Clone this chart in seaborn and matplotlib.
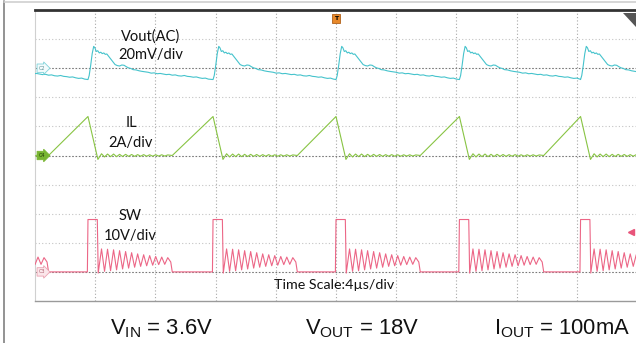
import numpy as np
import pandas as pd
import matplotlib
matplotlib.use("Agg")
import matplotlib.pyplot as plt
import seaborn as sns
from matplotlib.lines import Line2D
from matplotlib.patches import Polygon

# ---------------- data ----------------
# switching-cycle start times (SW rising edge), microseconds
cycle_starts_us = [-4.7, 3.52, 11.83, 20.0, 28.2, 36.25]

# Vout(AC) shape within one cycle: time offset (us) and ripple (mV)
vout_t_us = [0.00, 0.08, 0.18, 0.28, 0.38, 0.46, 0.55, 0.65, 0.75, 0.85, 0.95, 1.05,
             1.15, 1.25, 1.35, 1.50, 1.65, 1.80, 1.95, 2.10, 2.25, 2.40, 2.55, 2.70,
             2.85, 3.00, 3.20, 3.40, 3.60, 3.80, 4.00, 4.20, 4.40, 4.60, 4.80, 5.00,
             5.20, 5.40, 5.60, 5.80, 6.00, 6.20, 6.40, 6.60, 6.80, 7.00, 7.20, 7.40,
             7.60, 7.80, 8.00]
vout_mv = [-7.8, -5.0, 2.0, 10.0, 15.0, 14.0, 11.5, 12.0, 10.5, 11.0, 10.0, 10.5,
           9.5, 9.8, 8.5, 6.5, 4.5, 2.5, 1.8, 1.5, 2.2, 2.0, 1.0, 0.2,
           -0.2, -1.0, -1.2, -1.8, -2.2, -2.5, -2.8, -3.4, -3.2, -3.8, -3.6, -4.0,
           -4.4, -4.2, -4.8, -4.6, -5.2, -5.4, -5.0, -5.6, -5.8, -6.2, -6.0, -6.6,
           -7.0, -6.8, -7.5]

# inductor current shape after the peak (A)
il_t_us = [0.0, 0.66, 0.8, 0.9, 1.1, 1.3, 1.5, 1.7, 1.9, 2.1, 2.3, 2.5, 2.7, 2.9,
           3.1, 3.3, 3.5, 3.7, 3.9, 4.1, 4.3, 4.5, 4.7, 4.9, 5.1, 5.3, 5.6]
il_a = [2.68, -0.27, -0.05, 0.12, -0.1, 0.1, -0.08, 0.1, -0.08, 0.08, -0.07, 0.08,
        -0.06, 0.07, -0.06, 0.06, -0.05, 0.06, -0.05, 0.05, -0.05, 0.05, -0.04,
        0.05, -0.04, 0.04, 0.0]

# switch-node voltage shape (V)
sw_t_us = [-0.04, 0.0, 0.62, 0.68, 0.9, 1.1, 1.3, 1.5, 1.7, 1.9, 2.1, 2.3, 2.5,
           2.7, 2.9, 3.1, 3.3, 3.5, 3.7, 3.9, 4.1, 4.3, 4.5, 4.7, 4.9, 5.1, 5.3,
           5.5, 5.6]
sw_v = [0.0, 18.0, 18.0, -0.4, 7.9, 0.2, 7.8, 0.4, 7.6, 0.7, 7.3, 1.0, 7.0, 1.3,
        6.6, 1.6, 6.2, 1.9, 5.9, 2.1, 5.6, 2.3, 5.3, 2.5, 5.1, 2.6, 4.9, 3.4, 0.0]

channels = ["Vout(AC)", "IL", "SW"]
channel_scale = [20.0, 2.0, 10.0]       # units per division
channel_ref_div = [8.0, 5.0, 1.0]       # ground-reference position (div)
channel_colors = ["#45c3cc", "#88c443", "#ec6686"]
time_per_div_us = 4.0
n_xdiv, n_ydiv = 10, 10

texts_label = ["Vout(AC)\n20mV/div", "IL\n2A/div", "SW\n10V/div"]
bottom_labels = [r"V$_{\mathregular{IN}}$ = 3.6V", r"V$_{\mathregular{OUT}}$ = 18V",
                 r"I$_{\mathregular{OUT}}$ = 100mA"]
time_scale_label = "Time Scale:4µs/div"
sw_trigger_level_v = 13.7

# ---------------- build table ----------------
shapes = [(vout_t_us, vout_mv), (il_t_us, il_a), (sw_t_us, sw_v)]
rows = []
for ch, (tt, vv), sc, ref in zip(channels, shapes, channel_scale, channel_ref_div):
    for t0 in cycle_starts_us:
        for dt, v in zip(tt, vv):
            rows.append((ch, t0 + dt, ref + v / sc))
df = pd.DataFrame(rows, columns=["channel", "t_us", "div"])

# ---------------- figure ----------------
sns.set_style("white")
plt.rcParams["mathtext.default"] = "regular"
W, H = 636, 343
fig = plt.figure(figsize=(W / 100, H / 100), dpi=100)
ax = fig.add_axes([35 / W, 42 / H, 602 / W, 291 / H])

xmax = n_xdiv * time_per_div_us
ax.set_xlim(0, xmax)
ax.set_ylim(0, n_ydiv)

# grid
for i in range(1, n_xdiv):
    ax.axvline(i * time_per_div_us, color="#a8a8a8", lw=0.8, ls=(0, (1, 2)), zorder=1)
for j in range(1, n_ydiv):
    dark = j in channel_ref_div
    ax.axhline(j, color="#7a7a7a" if dark else "#c4c4c4", lw=0.8,
               ls=(0, (1.5, 1.5)) if dark else (0, (1, 2)), zorder=1)

sns.lineplot(data=df, x="t_us", y="div", hue="channel", hue_order=channels,
             palette=channel_colors, estimator=None, sort=False, lw=0.8,
             legend=False, ax=ax, zorder=3)

ax.set_xlabel("")
ax.set_ylabel("")
ax.set_xticks([])
ax.set_yticks([])
for s in ["left", "bottom", "top", "right"]:
    ax.spines[s].set_visible(True)
ax.spines["top"].set_color("#333333")
ax.spines["top"].set_linewidth(2.0)
ax.spines["left"].set_color("#d0d0d0")
ax.spines["left"].set_linewidth(0.8)
ax.spines["bottom"].set_color("#9a9a9a")
ax.spines["bottom"].set_linewidth(1.0)
ax.spines["right"].set_visible(False)

# channel tags on the left edge
tag_styles = [("C2", "#f2fbfc", "#7fd3da", "#5a8f94"),
              ("C4", "#78b531", "#78b531", "#1e3a06"),
              ("C3", "#fbe6ea", "#eba3b2", "#b06070")]
for (tag, fc, ec, tc), ref in zip(tag_styles, channel_ref_div):
    ax.text(0.25, ref, tag, fontsize=3.5, color=tc, ha="left", va="center",
            family="DejaVu Sans", zorder=5,
            bbox=dict(boxstyle="rarrow,pad=0.35", fc=fc, ec=ec, lw=0.6))

# trigger marker at screen centre
ax.text(xmax / 2, 0.98, "T", transform=ax.get_xaxis_transform(), fontsize=4.5,
        color="black", ha="center", va="top", family="DejaVu Sans", weight="bold",
        zorder=6, bbox=dict(boxstyle="square,pad=0.3", fc="#e8892a", ec="#b0601a", lw=0.6))
# trigger level on SW channel (right edge)
ax.plot([xmax * 0.99], [channel_ref_div[2] + sw_trigger_level_v / channel_scale[2]],
        marker="<", ms=4, color="#e8547a", clip_on=False, zorder=6)

# channel labels
label_pos = [(151, 41, 59), (131, 127, 147), (130, 220, 240)]
for txt, (xc, y1, y2) in zip(texts_label, label_pos):
    l1, l2 = txt.split("\n")
    fig.text(xc / W, 1 - y1 / H, l1, ha="center", va="baseline", fontsize=10.5,
             family="Lato", color="#111111")
    fig.text(xc / W, 1 - y2 / H, l2, ha="center", va="baseline", fontsize=10.5,
             family="Lato", color="#111111")
fig.text(274 / W, 1 - 289 / H, time_scale_label, ha="left", va="baseline",
         fontsize=10.3, family="Lato", color="#111111")

# bottom conditions
for txt, xl in zip(bottom_labels, [110, 305, 494]):
    fig.text(xl / W, 1 - 334 / H, txt, ha="left", va="baseline", fontsize=15.8,
             family="Liberation Sans", color="#111111")

# outer frame and corner decoration
fig.add_artist(Line2D([4 / W, 4 / W], [0, 1 - 1 / H], color="#8a8a8a", lw=1.3,
                      transform=fig.transFigure))
fig.add_artist(Line2D([4 / W, 1], [1 - 1.5 / H, 1 - 1.5 / H], color="#cfcfcf", lw=1.2,
                      transform=fig.transFigure))
fig.add_artist(Polygon([[623 / W, 1 - 13 / H], [1, 1 - 13 / H], [1, 1 - 27 / H]],
                       closed=True, fc="#555555", ec="none", transform=fig.transFigure))

fig.savefig("out.png", dpi=100, facecolor="white")
